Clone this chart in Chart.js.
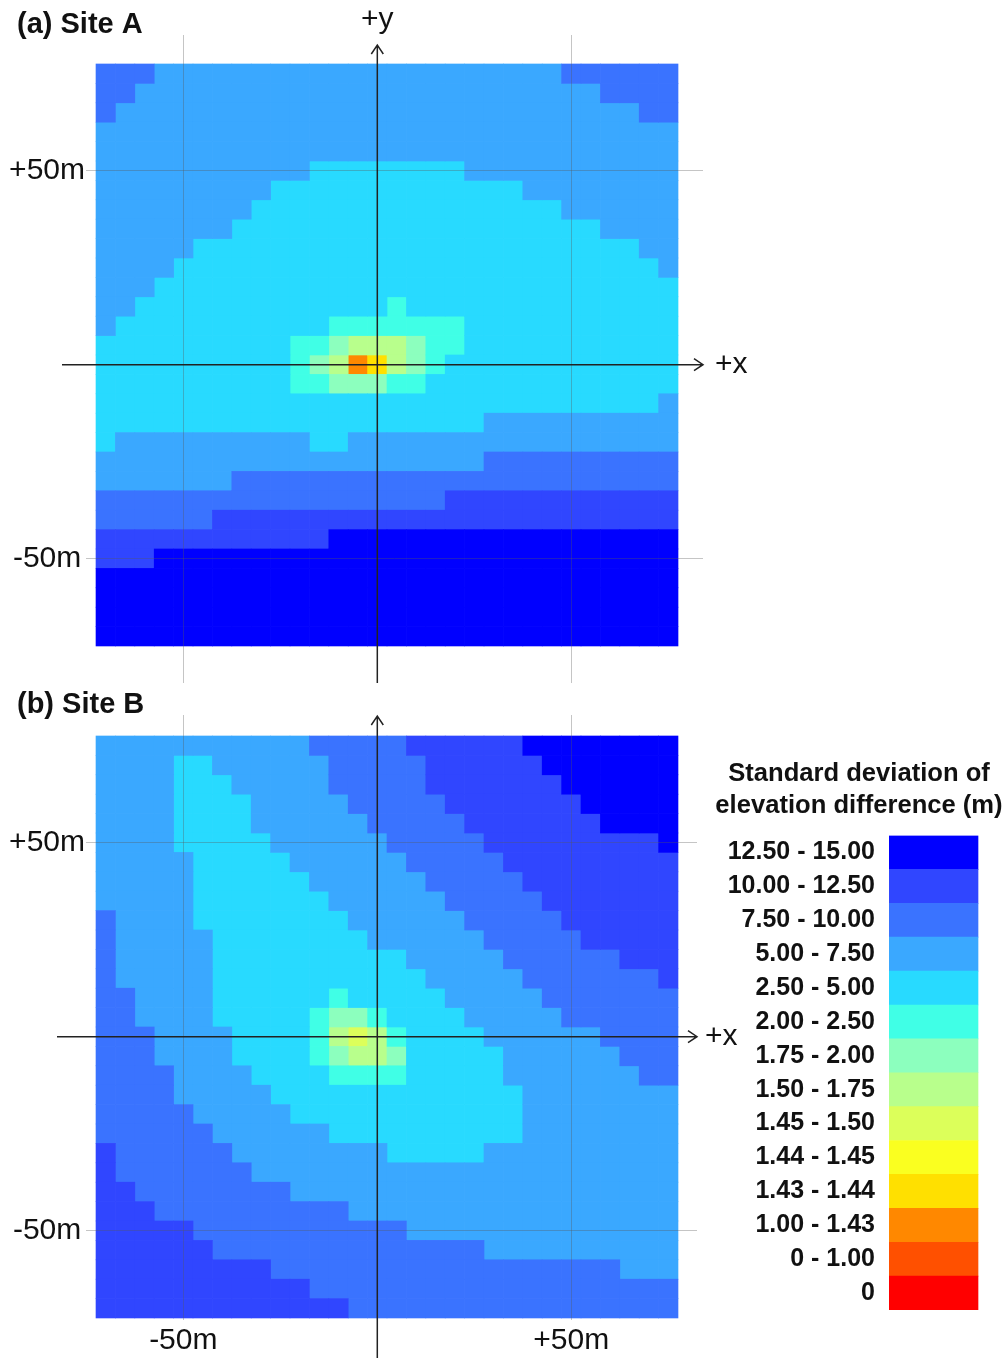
<!DOCTYPE html>
<html>
  <head>
    <meta charset="UTF-8" />
    <title>Standard deviation of elevation difference</title>
    <script src="https://cdn.jsdelivr.net/npm/chart.js@4.4.1/dist/chart.umd.min.js"></script>
    <style>
      body { margin: 0; width: 1006px; height: 1358px; background: #fff; position: relative; overflow: hidden; }
      canvas { position: absolute; }
    </style>
  </head>
  <body>
    <canvas id="siteA" width="1006" height="702" style="left:0px;top:0px"></canvas>
    <canvas id="siteB" width="1006" height="678" style="left:0px;top:680px"></canvas>
    <canvas id="legend" width="294" height="592" style="left:712px;top:750px"></canvas>
    <script>
      const levelLabels = ['12.50 - 15.00', '10.00 - 12.50', '7.50 - 10.00', '5.00 - 7.50', '2.50 - 5.00', '2.00 - 2.50',
        '1.75 - 2.00', '1.50 - 1.75', '1.45 - 1.50', '1.44 - 1.45', '1.43 - 1.44', '1.00 - 1.43', '0 - 1.00', '0']
      const levelColors = ['#0000ff', '#3046ff', '#3a73ff', '#3aa8ff', '#28daff', '#40ffe6',
        '#8cffbe', '#b8ff8c', '#dcff5a', '#faff20', '#ffe000', '#ff8800', '#ff5000', '#ff0000']

      // centres of the 5 m cells, in metres from the origin
      const cellX = [-70, -65, -60, -55, -50, -45, -40, -35, -30, -25, -20, -15, -10, -5, 0,
        5, 10, 15, 20, 25, 30, 35, 40, 45, 50, 55, 60, 65, 70, 75]
      const cellY = [75, 70, 65, 60, 55, 50, 45, 40, 35, 30, 25, 20, 15, 10, 5,
        0, -5, -10, -15, -20, -25, -30, -35, -40, -45, -50, -55, -60, -65, -70]
      const axisTicks = [-50, 50]

      // one string per row (top row first), one character per cell = index in levelLabels (a = 10, b = 11)
      const siteA = [
        '22233 33333 33333 33333 33332 22222',
        '22333 33333 33333 33333 33333 32222',
        '23333 33333 33333 33333 33333 33322',
        '33333 33333 33333 33333 33333 33333',
        '33333 33333 33333 33333 33333 33333',
        '33333 33333 34444 44443 33333 33333',
        '33333 33334 44444 44444 44333 33333',
        '33333 33344 44444 44444 44443 33333',
        '33333 33444 44444 44444 44444 43333',
        '33333 44444 44444 44444 44444 44433',
        '33334 44444 44444 44444 44444 44443',
        '33344 44444 44444 44444 44444 44444',
        '33444 44444 44444 54444 44444 44444',
        '34444 44444 44555 55554 44444 44444',
        '44444 44444 55677 76554 44444 44444',
        '44444 44444 567ba 76544 44444 44444',
        '44444 44444 55666 55444 44444 44444',
        '44444 44444 44444 44444 44444 44443',
        '44444 44444 44444 44444 33333 33333',
        '43333 33333 34433 33333 33333 33333',
        '33333 33333 33333 33333 22222 22222',
        '33333 33222 22222 22222 22222 22222',
        '22222 22222 22222 22211 11111 11111',
        '22222 21111 11111 11111 11111 11111',
        '11111 11111 11000 00000 00000 00000',
        '11100 00000 00000 00000 00000 00000',
        '00000 00000 00000 00000 00000 00000',
        '00000 00000 00000 00000 00000 00000',
        '00000 00000 00000 00000 00000 00000',
        '00000 00000 00000 00000 00000 00000'
      ]
      const siteB = [
        '33333 33333 32222 21111 11000 00000',
        '33334 43333 33222 22111 11100 00000',
        '33334 44333 33222 22111 11110 00000',
        '33334 44433 33322 22211 11111 00000',
        '33334 44433 33332 22221 11111 10000',
        '33334 44443 33333 22222 11111 11110',
        '33333 44444 33333 32222 21111 11111',
        '33333 44444 43333 33222 22111 11111',
        '33333 44444 44333 33322 22211 11111',
        '23333 44444 44433 33332 22221 11111',
        '23333 34444 44443 33333 22222 11111',
        '23333 34444 44444 43333 32222 22111',
        '23333 34444 44444 44333 33222 22221',
        '22333 34444 44544 44433 33322 22222',
        '22333 34444 45665 44443 33332 22222',
        '22233 33444 45787 54444 33333 32222',
        '22233 33444 45677 64444 43333 33222',
        '22223 33344 44555 54444 43333 33322',
        '22223 33334 44444 44444 44333 33333',
        '22222 33333 44444 44444 44333 33333',
        '22222 23333 33444 44444 44333 33333',
        '12222 22333 33333 44444 33333 33333',
        '12222 22233 33333 33333 33333 33333',
        '11222 22222 33333 33333 33333 33333',
        '11122 22222 22233 33333 33333 33333',
        '11111 22222 22222 23333 33333 33333',
        '11111 12222 22222 22222 33333 33333',
        '11111 11112 22222 22222 22222 22333',
        '11111 11111 12222 22222 22222 22222',
        '11111 11111 11122 22222 22222 22222'
      ]

      const CELL = 5
      const FONT = '"Liberation Sans", Arial, sans-serif'
      Chart.defaults.font.family = FONT

      const toCells = function (rows) {
        const cells = levelColors.map(() => [])
        rows.forEach(function (row, r) {
          const codes = row.replace(/ /g, '')
          if (codes.length !== cellX.length) {
            throw new Error('row ' + r + ' has ' + codes.length + ' cells')
          }
          codes.split('').forEach(function (ch, c) {
            cells[parseInt(ch, 16)].push({ x: cellX[c], y: [cellY[r] - CELL / 2, cellY[r] + CELL / 2] })
          })
        })
        return cells
      }

      // panel caption plus black axes through the origin with open arrow heads
      const crossAxes = {
        id: 'crossAxes',
        afterDraw: function (chart, args, opts) {
          const ctx = chart.ctx
          const area = chart.chartArea
          const ox = chart.scales.x.getPixelForValue(0)
          const oy = chart.scales.y.getPixelForValue(0)
          const top = area.top + opts.tip
          ctx.save()
          ctx.fillStyle = '#111'
          ctx.textBaseline = 'middle'
          ctx.textAlign = 'left'
          ctx.font = 'bold 29px ' + FONT
          ctx.fillText(opts.title, 17, 25)
          ctx.strokeStyle = '#222'
          ctx.lineWidth = 1.5
          ctx.beginPath()
          ctx.moveTo(area.left - opts.lead, oy)
          ctx.lineTo(area.right, oy)
          ctx.moveTo(area.right - 9, oy - 6)
          ctx.lineTo(area.right, oy)
          ctx.lineTo(area.right - 9, oy + 6)
          ctx.moveTo(ox, area.bottom + opts.tail)
          ctx.lineTo(ox, top)
          ctx.moveTo(ox - 6, top + 9)
          ctx.lineTo(ox, top)
          ctx.lineTo(ox + 6, top + 9)
          ctx.stroke()
          ctx.font = '30px ' + FONT
          ctx.fillText('+x', area.right + opts.gap, oy)
          if (opts.yLabel) {
            ctx.textAlign = 'center'
            ctx.fillText('+y', ox, top - 25)
          }
          ctx.restore()
        }
      }

      const tickText = v => (v > 0 ? '+' : '') + v + 'm'
      const setTicks = function (scale) {
        scale.ticks = axisTicks.map(v => ({ value: v }))
      }
      const gridLines = { color: 'rgba(90, 90, 90, 0.35)', lineWidth: 1, z: 1, drawTicks: false, offset: false }

      const panel = function (id, rows, geo) {
        const cells = toCells(rows)
        const datasets = levelColors.map(function (color, k) {
          return {
            label: levelLabels[k],
            data: cells[k],
            backgroundColor: color,
            borderWidth: 0,
            grouped: false,
            barPercentage: 1,
            categoryPercentage: 1
          }
        })
        return new Chart(document.getElementById(id), {
          type: 'bar',
          data: { datasets: datasets },
          options: {
            responsive: false,
            animation: false,
            events: [],
            layout: { padding: { left: 0, top: 35, right: geo.padRight, bottom: geo.padBottom } },
            scales: {
              x: {
                type: 'linear', min: geo.x[0], max: geo.x[1], offset: false,
                afterBuildTicks: setTicks,
                afterFit: s => { s.height = geo.xHeight },
                grid: gridLines,
                border: { display: false },
                ticks: { display: geo.xLabels, padding: 3, maxRotation: 0, color: '#111', font: { size: 30 }, callback: tickText }
              },
              y: {
                type: 'linear', min: geo.y[0], max: geo.y[1],
                afterBuildTicks: setTicks,
                afterFit: s => { s.width = 86 },
                grid: gridLines,
                border: { display: false },
                ticks: { padding: 1, crossAlign: 'center', color: '#111', font: { size: 30 }, callback: tickText }
              }
            },
            plugins: {
              legend: { display: false },
              tooltip: { enabled: false },
              crossAxes: geo.cross
            }
          },
          plugins: [crossAxes]
        })
      }

      panel('siteA', siteA, {
        x: [-75.08, 83.94], y: [-82.04, 84.97], padRight: 303, padBottom: 19, xHeight: 0, xLabels: false,
        cross: { title: '(a) Site A', lead: 24, tip: 10, tail: 0, gap: 12, yLabel: true }
      })
      panel('siteB', siteB, {
        x: [-75.08, 82.40], y: [-73.02, 82.91], padRight: 309, padBottom: 0, xHeight: 38, xLabels: true,
        cross: { title: '(b) Site B', lead: 29, tip: 1, tail: 38, gap: 8, yLabel: false }
      })

      new Chart(document.getElementById('legend'), {
        type: 'bar',
        data: {
          labels: levelLabels,
          datasets: [{
            data: levelLabels.map(() => 1),
            backgroundColor: levelColors,
            borderWidth: 0,
            barPercentage: 1,
            categoryPercentage: 1
          }]
        },
        options: {
          indexAxis: 'y',
          responsive: false,
          animation: false,
          events: [],
          layout: { padding: { left: 0, top: 0, right: 0, bottom: 32 } },
          scales: {
            x: { display: false, min: 0, max: 1.3146 },
            y: {
              afterFit: s => { s.width = 177 },
              grid: { display: false, drawTicks: false },
              border: { display: false },
              ticks: { padding: 14, autoSkip: false, color: '#111', font: { size: 25, weight: 'bold' } }
            }
          },
          plugins: {
            legend: { display: false },
            tooltip: { enabled: false },
            title: {
              display: true,
              text: ['Standard deviation of', 'elevation difference (m)'],
              color: '#111',
              font: { size: 25.6, weight: 'bold', lineHeight: 1.27 },
              padding: { top: 7.5, bottom: 13 }
            }
          }
        }
      })
    </script>
  </body>
</html>
